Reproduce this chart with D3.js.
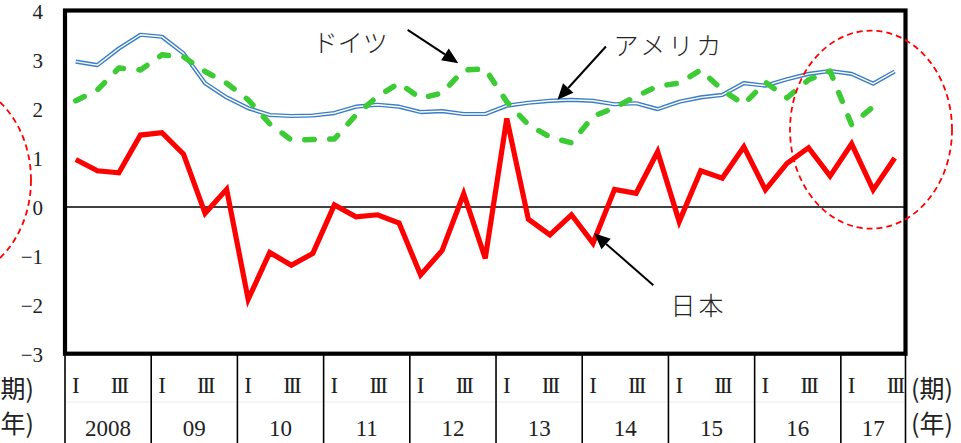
<!DOCTYPE html>
<html>
<head>
<meta charset="utf-8">
<script src="https://cdn.jsdelivr.net/npm/d3@7"></script>
<style>
  html, body { margin: 0; padding: 0; background: #fff; }
  svg { display: block; }
</style>
</head>
<body>
<svg id="chart" width="961" height="443"></svg>
<script>
// Quarterly series, 2008 Q1 – 2017 Q3
const years = [2008, 2009, 2010, 2011, 2012, 2013, 2014, 2015, 2016, 2017];
const yearLabels = ["2008", "09", "10", "11", "12", "13", "14", "15", "16", "17"];
const quarterLabels = ["I", "", "III", ""];
const quartersPerYear = [4, 4, 4, 4, 4, 4, 4, 4, 4, 3];

const japan = [0.97, 0.74, 0.70, 1.47, 1.52, 1.08, -0.13, 0.36, -1.89, -0.93,
  -1.19, -0.95, 0.04, -0.20, -0.16, -0.33, -1.39, -0.89, 0.27, -1.05,
  1.81, -0.25, -0.57, -0.16, -0.74, 0.36, 0.28, 1.13, -0.30, 0.74,
  0.59, 1.23, 0.35, 0.89, 1.21, 0.63, 1.29, 0.35, 1.00];
const usa = [2.97, 2.90, 3.24, 3.52, 3.48, 3.14, 2.53, 2.24, 2.02, 1.88,
  1.86, 1.87, 1.92, 2.05, 2.09, 2.05, 1.94, 1.96, 1.90, 1.90,
  2.07, 2.13, 2.17, 2.19, 2.17, 2.10, 2.12, 2.00, 2.15, 2.24,
  2.29, 2.53, 2.48, 2.61, 2.72, 2.78, 2.72, 2.52, 2.77];
const germany = [2.17, 2.39, 2.84, 2.80, 3.11, 3.07, 2.77, 2.53, 2.19, 1.70,
  1.37, 1.38, 1.39, 1.88, 2.26, 2.53, 2.22, 2.33, 2.80, 2.82,
  2.15, 1.68, 1.43, 1.31, 1.85, 2.03, 2.26, 2.47, 2.53, 2.80,
  2.39, 2.10, 2.55, 2.23, 2.60, 2.78, 1.68, 2.05];

const yTicks = [-3, -2, -1, 0, 1, 2, 3, 4];

const SERIF = '"Liberation Serif", serif';
const JP = '"Noto Sans CJK JP", sans-serif';

// Build the quarter list
const quarters = [];
years.forEach((yr, yi) => {
  for (let q = 0; q < quartersPerYear[yi]; q++) quarters.push({ year: yr, yi, q });
});
const nQ = quarters.length;

const svg = d3.select("#chart");
const plot = { left: 65, right: 905.5, top: 10.5, bottom: 353.7 };

const x = d3.scaleLinear().domain([0, nQ]).range([plot.left, plot.right]);
const y = d3.scaleLinear().domain([-3, 4]).range([plot.bottom, plot.top + 0.8]);
const xc = i => x(i + 0.5);

svg.append("rect").attr("width", 961).attr("height", 443).attr("fill", "#fff");

// Y axis labels
const yAxis = d3.axisLeft(y).tickValues(yTicks).tickSize(0).tickPadding(0)
  .tickFormat(d3.format("d"));
const yg = svg.append("g").attr("transform", "translate(43,0)").call(yAxis)
  .attr("font-family", SERIF).attr("font-size", 21);
yg.select(".domain").remove();
yg.selectAll("text")
  .style("font-family", SERIF)
  .style("font-size", "21px")
  .attr("dy", "0.36em")
  .attr("fill", "#222");

// Zero line
svg.append("line")
  .attr("x1", plot.left).attr("x2", plot.right)
  .attr("y1", y(0)).attr("y2", y(0))
  .attr("stroke", "#000").attr("stroke-width", 1.6);

// Series lines
const line = d3.line().x((d, i) => xc(i)).y(d => y(d));

// USA: double line (blue outline with white core)
svg.append("path").datum(usa).attr("d", line)
  .attr("fill", "none").attr("stroke", "#3a7ec2").attr("stroke-width", 4.2)
  .attr("stroke-linejoin", "round");
svg.append("path").datum(usa).attr("d", line)
  .attr("fill", "none").attr("stroke", "#fff").attr("stroke-width", 1.4)
  .attr("stroke-linejoin", "round");

// Germany: green dashed
svg.append("path").datum(germany).attr("d", line)
  .attr("fill", "none").attr("stroke", "#3ccb35").attr("stroke-width", 5.5)
  .attr("stroke-dasharray", "9.5 15.5").attr("stroke-linecap", "round")
  .attr("stroke-linejoin", "round");

// Japan: solid red
svg.append("path").datum(japan).attr("d", line)
  .attr("fill", "none").attr("stroke", "#ff0000").attr("stroke-width", 5.2)
  .attr("stroke-linejoin", "miter").attr("stroke-miterlimit", 4);

// Plot frame
svg.append("rect")
  .attr("x", plot.left).attr("y", plot.top)
  .attr("width", plot.right - plot.left).attr("height", plot.bottom - plot.top)
  .attr("fill", "none").attr("stroke", "#000").attr("stroke-width", 4.2);

// Bottom category axis: year separators, quarter and year labels
const yearStart = [];
let acc = 0;
quartersPerYear.forEach(n => { yearStart.push(acc); acc += n; });
yearStart.push(acc);

svg.append("line")
  .attr("x1", plot.left).attr("x2", plot.right)
  .attr("y1", 402).attr("y2", 402)
  .attr("stroke", "#ececec").attr("stroke-width", 1);

svg.append("g").selectAll("line").data(yearStart).join("line")
  .attr("x1", d => x(d)).attr("x2", d => x(d))
  .attr("y1", plot.bottom).attr("y2", 443)
  .attr("stroke", "#000").attr("stroke-width", 1.6);

svg.append("g").selectAll("text").data(quarters.filter(d => quarterLabels[d.q] !== "")).join("text")
  .style("font-family", SERIF).attr("fill", "#222")
  .attr("x", d => xc(quarters.indexOf(d)))
  .attr("y", 393)
  .attr("text-anchor", "middle")
  .attr("font-size", 23)
  .attr("letter-spacing", d => d.q === 2 ? -2.3 : 0)
  .text(d => quarterLabels[d.q]);

svg.append("g").selectAll("text").data(yearLabels).join("text")
  .style("font-family", SERIF).attr("fill", "#222")
  .attr("x", (d, i) => (x(yearStart[i]) + x(yearStart[i + 1])) / 2)
  .attr("y", 436)
  .attr("text-anchor", "middle")
  .attr("font-size", 23)
  .text(d => d);

// Unit labels on both sides (the left pair runs off the page edge)
[{ x: 911, anchor: "start" }, { x: 34, anchor: "end" }].forEach(s => {
  svg.append("text").style("font-family", JP).attr("fill", "#222")
    .attr("x", s.x).attr("y", 398)
    .attr("text-anchor", s.anchor).attr("font-size", 25).text("(期)");
  svg.append("text").style("font-family", JP).attr("fill", "#222")
    .attr("x", s.x).attr("y", 433)
    .attr("text-anchor", s.anchor).attr("font-size", 25).text("(年)");
});

// Series annotations with arrows (positions in quarter index / value space)
const notes = [
  { label: "ドイツ", tx: 11.0, ty: 3.17, spacing: 0, from: [15.4, 3.62], to: [17.75, 2.94] },
  { label: "アメリカ", tx: 24.95, ty: 3.11, spacing: 3, from: [24.6, 3.28], to: [22.35, 2.19] },
  { label: "日本", tx: 27.6, ty: -2.21, spacing: 3, from: [26.8, -1.60], to: [24.05, -0.54] }
];

const ann = svg.append("g");
notes.forEach(n => {
  ann.append("text").style("font-family", JP).attr("fill", "#222")
    .attr("font-weight", 300)
    .attr("x", x(n.tx + 0.5)).attr("y", y(n.ty))
    .attr("font-size", 25).attr("letter-spacing", n.spacing)
    .text(n.label);
  const x1 = x(n.from[0] + 0.5), y1 = y(n.from[1]);
  const x2 = x(n.to[0] + 0.5), y2 = y(n.to[1]);
  const ang = Math.atan2(y2 - y1, x2 - x1);
  const L = 16, W = 7;
  const bx = x2 - L * Math.cos(ang), by = y2 - L * Math.sin(ang);
  ann.append("line")
    .attr("x1", x1).attr("y1", y1).attr("x2", bx).attr("y2", by)
    .attr("stroke", "#000").attr("stroke-width", 2);
  ann.append("path")
    .attr("d", d3.line()([
      [x2, y2],
      [bx + W * Math.sin(ang), by - W * Math.cos(ang)],
      [bx - W * Math.sin(ang), by + W * Math.cos(ang)]
    ]) + "Z")
    .attr("fill", "#000");
});

// Highlight ellipses (dashed red)
const rings = [
  { cx: xc(36.9), cy: y(1.58), rx: 81, ry: 99 },
  { cx: -50, cy: y(0.55), rx: 81, ry: 99 }
];
svg.append("g").selectAll("ellipse").data(rings).join("ellipse")
  .attr("cx", d => d.cx).attr("cy", d => d.cy)
  .attr("rx", d => d.rx).attr("ry", d => d.ry)
  .attr("fill", "none").attr("stroke", "#ff0000").attr("stroke-width", 1.8)
  .attr("stroke-dasharray", "6 4");
</script>
</body>
</html>
